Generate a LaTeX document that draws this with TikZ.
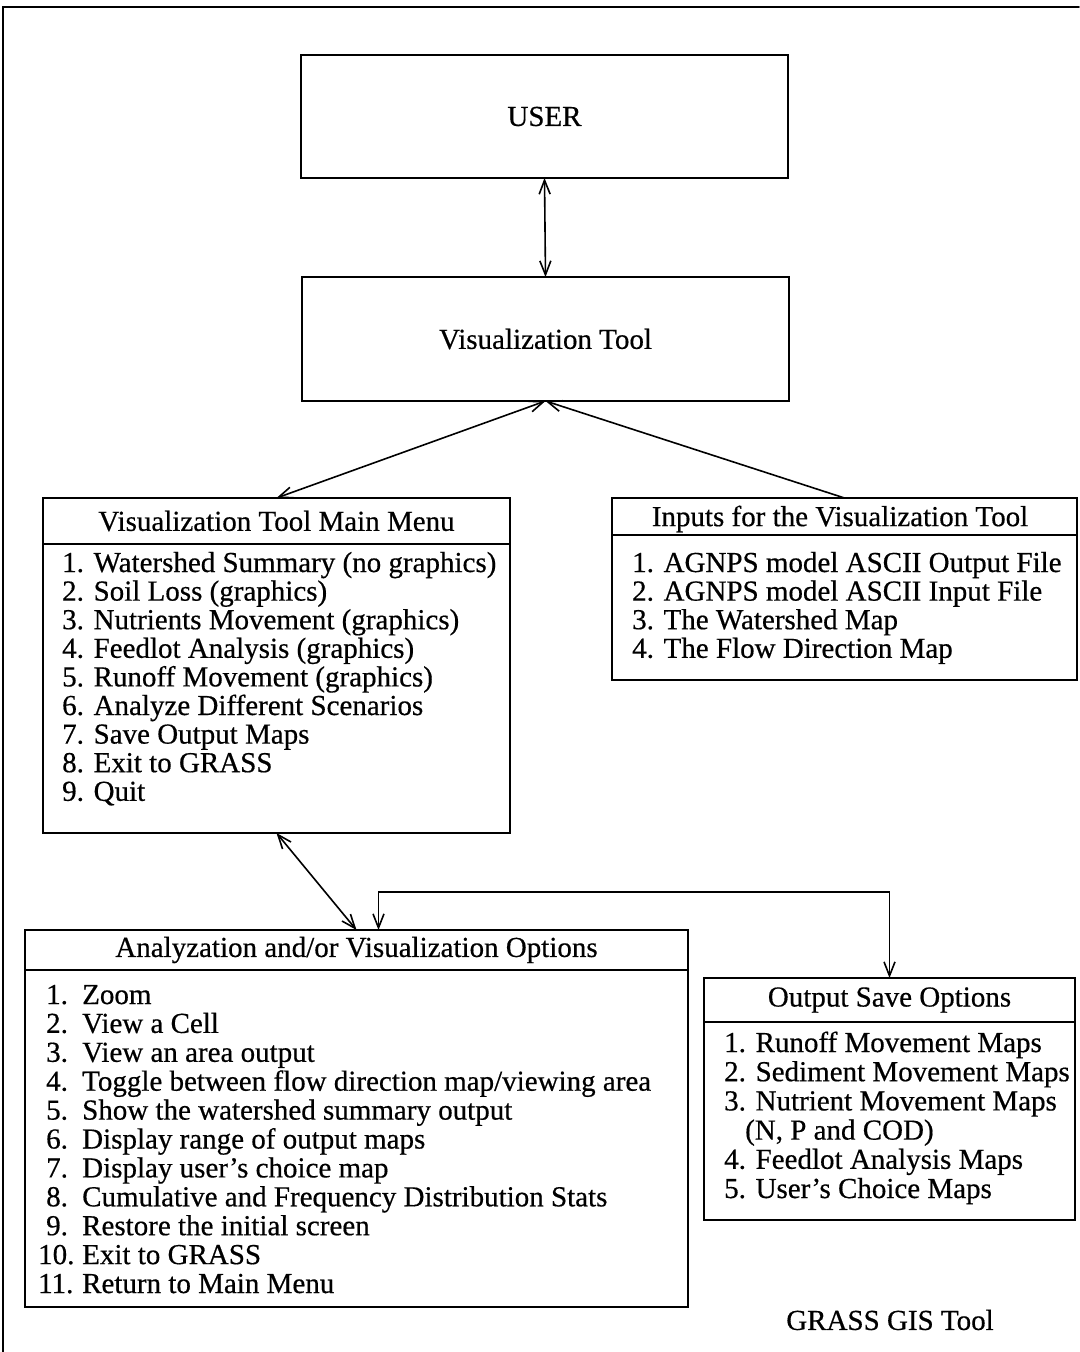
\documentclass[tikz,border=0pt]{standalone}
\usepackage{fontspec}
\setmainfont[FakeBold=0.5]{Liberation Serif}
\usepackage{tikz}
\usetikzlibrary{arrows.meta,positioning}

\tikzset{
  box/.style={draw,line width=1.6pt,anchor=north west,inner sep=0pt,outer sep=0pt},
  item/.style={anchor=base west,inner sep=0pt},
  link/.style={line width=1.6pt},
}

\begin{document}
\begin{tikzpicture}[x=1pt,y=-1pt,>={Straight Barb[length=14pt,width=11pt]},
    font=\fontsize{29}{30}\selectfont,line cap=round]
  \useasboundingbox (0,0) rectangle (1079,1352);
  % outer frame (cut at the page edge)
  \draw[line width=1.6pt] (3,1352) -- (3,7) -- (1079,7);

  % top two boxes
  \node[box,minimum width=487pt,minimum height=123pt] (user) at (301,55) {USER};
  \node[box,minimum width=487pt,minimum height=124pt] (vis) at (302,277) {Visualization Tool};

  % main menu
  \node[box,minimum width=467pt,minimum height=335pt] (menu) at (43,498) {};
  \draw[line width=1.6pt] (43,544) -- (510,544);
  \node (menu-title) at (276.5,521) {Visualization Tool Main Menu};
  \foreach \t [count=\i] in {1. Watershed Summary (no graphics),2. Soil Loss (graphics),
      3. Nutrients Movement (graphics),4. Feedlot Analysis (graphics),
      5. Runoff Movement (graphics),6. Analyze Different Scenarios,
      7. Save Output Maps,8. Exit to GRASS,9. Quit}
    \node[item] (menu-\i) at (62,{572+28.6*(\i-1)}) {\t};

  % inputs
  \node[box,minimum width=465pt,minimum height=182pt] (inputs) at (612,498) {};
  \draw[line width=1.6pt] (612,535) -- (1077,535);
  \node (inputs-title) at (840,519) {Inputs for the Visualization Tool};
  \foreach \t [count=\i] in {1. AGNPS model ASCII Output File,2. AGNPS model ASCII Input File,
      3. The Watershed Map,4. The Flow Direction Map}
    \node[item] (inputs-\i) at (632,{572+28.6*(\i-1)}) {\t};

  % analyzation options
  \node[box,minimum width=663pt,minimum height=377pt] (analyz) at (25,930) {};
  \draw[line width=1.6pt] (25,970) -- (688,970);
  \node (analyz-title) at (356.5,950) {Analyzation and/or Visualization Options};
  \foreach \t [count=\i] in {Zoom,View a Cell,View an area output,
      Toggle between flow direction map/viewing area,Show the watershed summary output,
      Display range of output maps,Display user's choice map,
      Cumulative and Frequency Distribution Stats,Restore the initial screen,
      Exit to GRASS,Return to Main Menu}{
    \node[item] (analyz-n\i) at ({\i<10 ? 46 : 38},{1004+28.9*(\i-1)}) {\i.};
    \node[item] (analyz-\i) at (82,{1004+28.9*(\i-1)}) {\t};
  }

  % output save options
  \node[box,minimum width=371pt,minimum height=242pt] (output) at (704,978) {};
  \draw[line width=1.6pt] (704,1022) -- (1075,1022);
  \node (output-title) at (889.5,1000) {Output Save Options};
  \foreach \t [count=\i] in {1. Runoff Movement Maps,2. Sediment Movement Maps,
      3. Nutrient Movement Maps,{\hspace*{21pt}(N, P and COD)},
      4. Feedlot Analysis Maps,5. User's Choice Maps}
    \node[item] (output-\i) at (724,{1052+29.2*(\i-1)}) {\t};

  \node (grass) at (890,1320) {GRASS GIS Tool};

  % connectors
  \draw[link,<->] (user.south) -- (vis.north);
  \draw[link,<->] (vis.south) -- (menu.north);
  \draw[link,->] (inputs.north) -- (vis.south);
  \draw[link,<->] (menu.south) -- (analyz.north);
  \draw[link,<->] ([xshift=22pt]analyz.north) -- ++(0,-38) -| (output.north);
\end{tikzpicture}
\end{document}
